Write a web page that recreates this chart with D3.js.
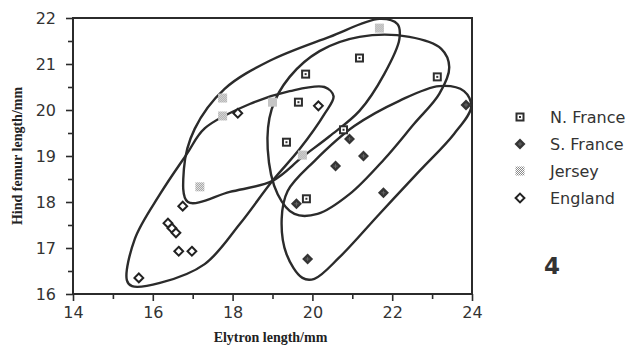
<!DOCTYPE html>
<html>
<head>
<meta charset="utf-8">
<script src="https://cdn.jsdelivr.net/npm/d3@7"></script>
<style>
	html, body { margin: 0; padding: 0; background: #fff; }
	svg { display: block; }
</style>
</head>
<body>
<svg id="chart" width="628" height="348"></svg>
<script>
// categories
const groups = ["N. France", "S. France", "Jersey", "England"];
const panelLabel = "4";

// measurements [elytron, hind femur] in mm
const nFrancePoints = [[19.35, 19.3], [19.65, 20.17], [19.83, 20.78], [21.18, 21.13], [23.13, 20.72], [20.78, 19.57], [19.85, 18.07]];
const sFrancePoints = [[20.93, 19.37], [21.28, 19.0], [20.58, 18.78], [21.78, 18.2], [19.6, 17.96], [23.85, 20.11], [19.88, 16.76]];
const jerseyPoints = [[21.68, 21.78], [17.75, 20.26], [17.75, 19.87], [19.0, 20.17], [19.75, 19.02], [17.18, 18.33]];
const englandPoints = [[18.13, 19.93], [20.15, 20.09], [16.75, 17.91], [16.38, 17.54], [16.48, 17.43], [16.58, 17.33], [16.65, 16.93], [16.98, 16.93], [15.65, 16.35]];

// hand drawn envelopes round each group, same units
const nFranceHull = [[18.88, 19.15], [18.98, 20.02], [19.43, 20.72], [20.18, 21.28], [21.18, 21.59], [22.43, 21.59], [23.23, 21.33], [23.43, 20.93], [23.18, 20.35], [22.55, 19.7], [21.8, 18.93], [20.93, 18.17], [20.13, 17.74], [19.55, 17.74], [19.13, 18.17]];
const sFranceHull = [[19.75, 16.35], [19.35, 16.87], [19.23, 17.63], [19.38, 18.24], [20.05, 18.89], [21.05, 19.65], [22.18, 20.2], [23.18, 20.52], [23.8, 20.41], [23.98, 20.07], [23.55, 19.48], [22.68, 18.67], [21.68, 17.74], [20.68, 16.8], [20.05, 16.33]];
const jerseyHull = [[16.88, 18.0], [16.78, 18.72], [17.05, 19.59], [17.8, 20.46], [18.93, 21.07], [20.43, 21.59], [21.68, 21.98], [22.13, 21.87], [22.18, 21.54], [21.8, 20.78], [21.18, 19.98], [20.43, 19.43], [19.75, 18.98], [19.0, 18.46], [17.93, 18.22]];
const englandHull = [[15.35, 16.3], [15.55, 17.2], [16.18, 18.17], [16.85, 19.04], [17.3, 19.6], [18.43, 20.13], [19.43, 20.41], [20.3, 20.5], [20.53, 20.3], [20.3, 19.91], [19.68, 19.15], [19.0, 18.46], [18.18, 17.52], [17.3, 16.65], [16.18, 16.24], [15.48, 16.17]];

// axes
const xTicks = [14, 16, 18, 20, 22, 24];
const xMinorTicks = [15, 17, 19, 21, 23];
const yTicks = [16, 17, 18, 19, 20, 21, 22];
const yMinorTicks = [16.5, 17.5, 18.5, 19.5, 20.5, 21.5];

const ink = "#2b2b2b";
const svg = d3.select("#chart");

const x = d3.scaleLinear().domain([14, 24]).range([73, 472]);
const y = d3.scaleLinear().domain([16, 22]).range([294, 18]);

// patterns for the grey "Jersey" marker
const defs = svg.append("defs");
const checker = defs
	.append("pattern")
	.attr("id", "checker")
	.attr("width", 2)
	.attr("height", 2)
	.attr("patternUnits", "userSpaceOnUse");
checker.append("rect").attr("width", 2).attr("height", 2).attr("fill", "#fff");
checker.append("rect").attr("width", 1).attr("height", 1).attr("fill", "#8a8a8a");
checker.append("rect").attr("x", 1).attr("y", 1).attr("width", 1).attr("height", 1).attr("fill", "#8a8a8a");

// marker drawers, g is already translated to the point
const markers = {
	"N. France": g => {
		g.append("rect").attr("x", -4.5).attr("y", -4.5).attr("width", 9).attr("height", 9).attr("fill", "#2e2e2e");
		g.append("rect").attr("x", -2.5).attr("y", -2.5).attr("width", 5).attr("height", 5).attr("fill", "#fff");
		g.append("rect").attr("x", -1).attr("y", -1).attr("width", 2).attr("height", 2).attr("fill", "#333");
	},
	"S. France": g => {
		g.append("path").attr("d", "M0,-5.5L5.5,0L0,5.5L-5.5,0Z").attr("fill", "#353535");
		g.append("path").attr("d", "M-2,0H2M0,-2V2").attr("stroke", "#666").attr("stroke-width", 1);
	},
	"Jersey": g => {
		g.append("rect").attr("x", -4.5).attr("y", -4.5).attr("width", 9).attr("height", 9).attr("fill", "url(#checker)");
	},
	"England": g => {
		g.append("path").attr("d", "M0,-4.4L4.4,0L0,4.4L-4.4,0Z").attr("fill", "#fff").attr("stroke", "#222").attr("stroke-width", 2);
	},
};

// frame
svg.append("rect")
	.attr("x", x(14))
	.attr("y", y(22))
	.attr("width", x(24) - x(14))
	.attr("height", y(16) - y(22))
	.attr("fill", "none")
	.attr("stroke", ink)
	.attr("stroke-width", 2);

const axisStyle = sel => {
	sel.selectAll("path.domain").remove();
	sel.selectAll("line").attr("stroke", ink).attr("stroke-width", 1.6);
	sel.selectAll("text")
		.attr("fill", "#333")
		.style("font-family", "'DejaVu Sans', sans-serif")
		.style("font-size", "16px");
};

svg.append("g")
	.attr("transform", `translate(0,${y(16)})`)
	.call(d3.axisBottom(x).tickValues(xTicks).tickSize(7).tickPadding(6).tickFormat(d3.format("d")))
	.call(axisStyle);
svg.append("g")
	.attr("transform", `translate(0,${y(16)})`)
	.call(d3.axisBottom(x).tickValues(xMinorTicks).tickSize(5).tickFormat(""))
	.call(axisStyle);
svg.append("g")
	.attr("transform", `translate(${x(14)},0)`)
	.call(d3.axisLeft(y).tickValues(yTicks).tickSize(7).tickPadding(10).tickFormat(d3.format("d")))
	.call(axisStyle);
svg.append("g")
	.attr("transform", `translate(${x(14)},0)`)
	.call(d3.axisLeft(y).tickValues(yMinorTicks).tickSize(5).tickFormat(""))
	.call(axisStyle);

// envelopes
const hullLine = d3.line()
	.x(d => x(d[0]))
	.y(d => y(d[1]))
	.curve(d3.curveCatmullRomClosed.alpha(0.5));

[nFranceHull, sFranceHull, jerseyHull, englandHull].forEach(h => {
	svg.append("path")
		.attr("d", hullLine(h))
		.attr("fill", "none")
		.attr("stroke", ink)
		.attr("stroke-width", 2.4);
});

// points
const series = [nFrancePoints, sFrancePoints, jerseyPoints, englandPoints];
series.forEach((pts, i) => {
	svg.append("g")
		.selectAll("g")
		.data(pts)
		.join("g")
		.attr("transform", d => `translate(${x(d[0])},${y(d[1])})`)
		.each(function () {
			markers[groups[i]](d3.select(this));
		});
});

// axis titles
svg.append("text")
	.attr("x", (x(14) + x(24)) / 2 - 2)
	.attr("y", 342)
	.attr("text-anchor", "middle")
	.style("font-family", "'Liberation Serif', 'Times New Roman', serif")
	.style("font-weight", "bold")
	.style("font-size", "14px")
	.attr("fill", "#222")
	.text("Elytron length/mm");

svg.append("text")
	.attr("transform", `translate(22,${(y(16) + y(22)) / 2}) rotate(-90)`)
	.attr("text-anchor", "middle")
	.style("font-family", "'Liberation Serif', 'Times New Roman', serif")
	.style("font-weight", "bold")
	.style("font-size", "14px")
	.attr("fill", "#222")
	.text("Hind femur length/mm");

// legend
const legendY = d3.scalePoint().domain(groups).range([117, 198]);
const legend = svg.append("g")
	.selectAll("g")
	.data(groups)
	.join("g")
	.attr("transform", d => `translate(520,${legendY(d)})`);
legend.each(function (d) {
	markers[d](d3.select(this));
});
legend.append("text")
	.attr("x", 30)
	.attr("dy", "0.36em")
	.style("font-family", "'DejaVu Sans', sans-serif")
	.style("font-size", "16px")
	.attr("fill", "#333")
	.text(d => d);

svg.append("text")
	.attr("x", 552)
	.attr("y", 274)
	.attr("text-anchor", "middle")
	.style("font-family", "'DejaVu Sans', sans-serif")
	.style("font-size", "23px")
	.style("font-weight", "bold")
	.attr("fill", "#333")
	.text(panelLabel);
</script>
</body>
</html>
